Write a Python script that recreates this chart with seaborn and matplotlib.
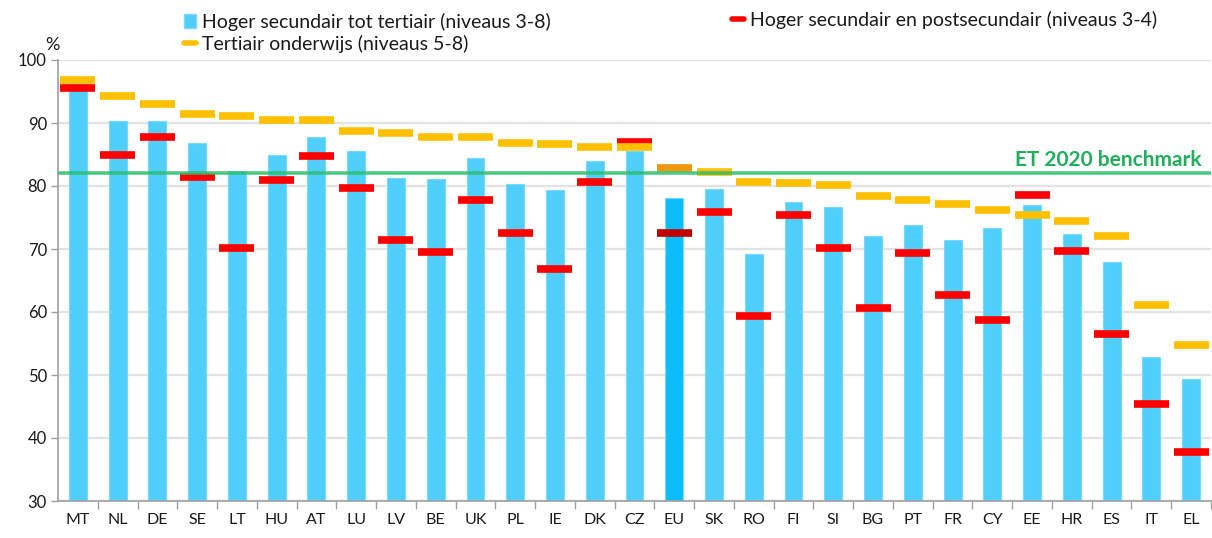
import matplotlib
matplotlib.use('Agg')
import matplotlib.pyplot as plt
import seaborn as sns
import numpy as np
from matplotlib.patches import Patch
from matplotlib.lines import Line2D

# data (%)
countries = ['MT', 'NL', 'DE', 'SE', 'LT', 'HU', 'AT', 'LU', 'LV', 'BE', 'UK', 'PL', 'IE', 'DK', 'CZ',
             'EU', 'SK', 'RO', 'FI', 'SI', 'BG', 'PT', 'FR', 'CY', 'EE', 'HR', 'ES', 'IT', 'EL']
upper_sec_to_tertiary = [95.4, 90.3, 90.3, 86.8, 82.4, 85.0, 87.7, 85.5, 81.3, 81.1, 84.4, 80.3, 79.4, 84.0, 85.6,
                         78.1, 79.6, 69.2, 77.4, 76.6, 72.0, 73.8, 71.5, 73.3, 77.0, 72.4, 67.9, 52.9, 49.3]
upper_sec_post_sec = [95.6, 84.9, 87.8, 81.4, 70.1, 81.0, 84.7, 79.7, 71.4, 69.5, 77.8, 72.5, 66.9, 80.6, 87.0,
                      72.5, 75.8, 59.4, 75.4, 70.2, 60.7, 69.3, 62.7, 58.7, 78.6, 69.7, 56.5, 45.4, 37.7]
tertiary = [96.8, 94.3, 93.0, 91.5, 91.1, 90.4, 90.4, 88.8, 88.4, 87.8, 87.8, 86.9, 86.6, 86.2, 86.2,
            82.8, 82.3, 80.6, 80.4, 80.2, 78.4, 77.8, 77.1, 76.2, 75.4, 74.5, 72.1, 61.1, 54.8]
benchmark = 82

BLUE = '#50cffb'
BLUE_EU = '#0bbefb'
RED = '#ff0000'
RED_EU = '#c00000'
YELLOW = '#ffc000'
YELLOW_EU = '#f0960f'
GREEN = '#2dbf6c'

sns.set_theme(style='white')
plt.rcParams['font.family'] = ['Lato', 'DejaVu Sans']

fig = plt.figure(figsize=(12.12, 5.38), dpi=100)
ax = fig.add_axes([58 / 1212, 1 - 501 / 538, 1153 / 1212, 441 / 538])

bar_colors = [BLUE_EU if c == 'EU' else BLUE for c in countries]
sns.barplot(x=countries, y=upper_sec_to_tertiary, hue=countries, palette=bar_colors, legend=False,
            width=0.45, edgecolor='#7ad9fb', linewidth=0.8, saturation=1, ax=ax, zorder=2)

xs = np.arange(len(countries))
red_colors = [RED_EU if c == 'EU' else RED for c in countries]
yel_colors = [YELLOW_EU if c == 'EU' else YELLOW for c in countries]
ax.hlines(upper_sec_post_sec, xs - 0.44, xs + 0.44, colors=red_colors, linewidth=5.5, zorder=3)
ax.hlines(tertiary, xs - 0.44, xs + 0.44, colors=yel_colors, linewidth=5.5, zorder=4)

ax.axhline(benchmark, color=GREEN, linewidth=2.6, alpha=0.85, zorder=5)
ax.text(28.27, benchmark + 0.6, 'ET 2020 benchmark', color='#1fae5c', fontsize=15, fontweight='bold',
        ha='right', va='bottom')

ax.set_xlim(-0.5, len(countries) - 0.5)
ax.set_ylim(30, 100)
ax.set_yticks(range(30, 101, 10))
ax.yaxis.grid(True, color='#e3e3e3', linewidth=1.6, zorder=0)
ax.set_axisbelow(True)

for s in ['top', 'right']:
    ax.spines[s].set_visible(False)
for s in ['left', 'bottom']:
    ax.spines[s].set_color('#a0a0a0')
    ax.spines[s].set_linewidth(1.2)

ax.set_xticks(xs + 0.5, minor=True)
ax.tick_params(axis='x', which='major', length=0, pad=9, labelsize=11.5, labelcolor='#1a1a1a')
ax.tick_params(axis='x', which='minor', bottom=True, length=6, width=1, color='#a0a0a0')
ax.tick_params(axis='y', left=True, length=5, width=1, color='#a0a0a0', labelsize=12,
               labelcolor='#1a1a1a', pad=3)

fig.text(52 / 1212, 1 - 45 / 538, '%', fontsize=13, color='#1a1a1a', ha='center', va='center')

leg_kw = dict(frameon=False, fontsize=14, handlelength=0.62, handleheight=0.68, handletextpad=0.32,
              labelspacing=0.22, borderpad=0, borderaxespad=0, labelcolor='#1a1a1a')
fig.legend([Patch(facecolor=BLUE, edgecolor='#7ad9fb'), Line2D([0], [0], color=YELLOW, linewidth=4)],
           ['Hoger secundair tot tertiair (niveaus 3-8)', 'Tertiair onderwijs (niveaus 5-8)'],
           loc='center left', bbox_to_anchor=(184 / 1212, 1 - 33 / 538), **leg_kw)
fig.legend([Line2D([0], [0], color=RED, linewidth=4)],
           ['Hoger secundair en postsecundair (niveaus 3-4)'],
           loc='center left', bbox_to_anchor=(732 / 1212, 1 - 20 / 538), **leg_kw)

fig.savefig('out.png', dpi=100)
